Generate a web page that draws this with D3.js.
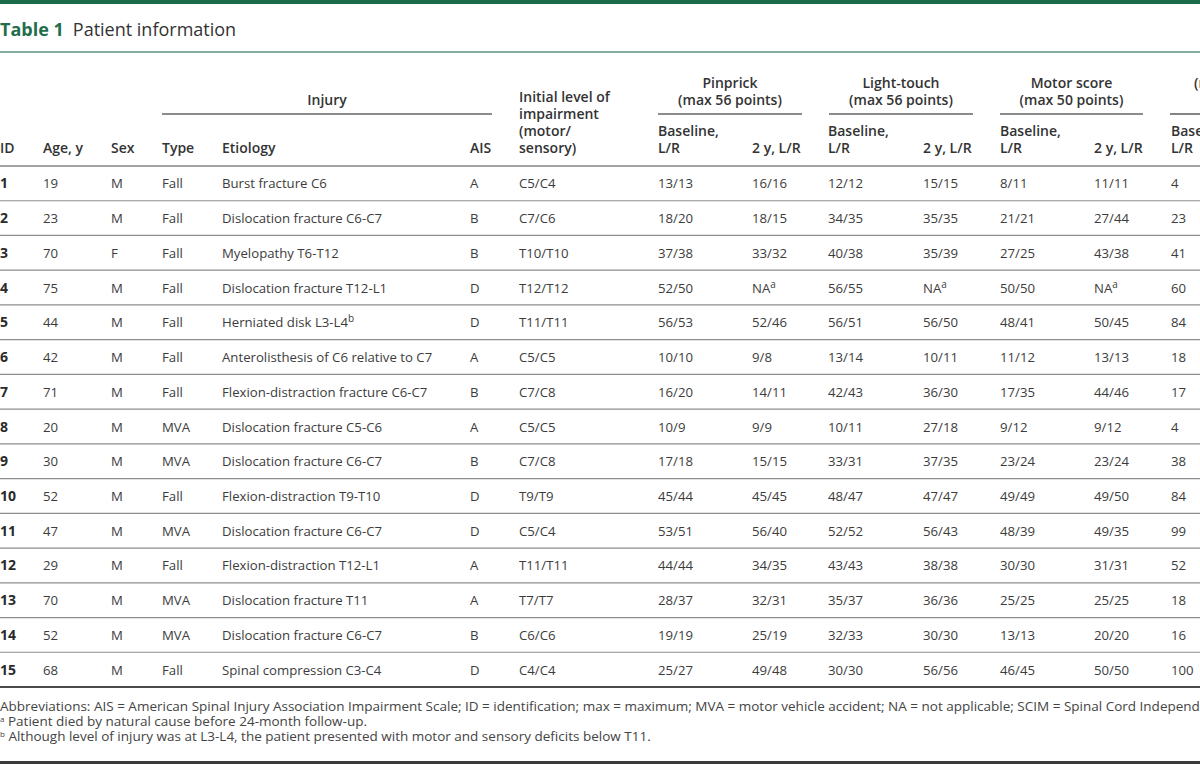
<!DOCTYPE html>
<html><head><meta charset="utf-8">
<script src="https://cdn.jsdelivr.net/npm/d3@7"></script>
<style>
html,body{margin:0;padding:0;background:#fff;overflow:hidden}
svg{display:block;font-family:"Open Sans",sans-serif}
</style></head><body>
<svg id="t" width="1200" height="764"></svg>
<script>
// ---------- data ----------
const ids = [1,2,3,4,5,6,7,8,9,10,11,12,13,14,15];
const ages = [19,23,70,75,44,42,71,20,30,52,47,29,70,52,68];
const sexes = ["M","M","F","M","M","M","M","M","M","M","M","M","M","M","M"];
const injuryTypes = ["Fall","Fall","Fall","Fall","Fall","Fall","Fall","MVA","MVA","Fall","MVA","Fall","MVA","MVA","Fall"];
const etiologies = ["Burst fracture C6","Dislocation fracture C6-C7","Myelopathy T6-T12","Dislocation fracture T12-L1",
  "Herniated disk L3-L4^b","Anterolisthesis of C6 relative to C7","Flexion-distraction fracture C6-C7",
  "Dislocation fracture C5-C6","Dislocation fracture C6-C7","Flexion-distraction T9-T10","Dislocation fracture C6-C7",
  "Flexion-distraction T12-L1","Dislocation fracture T11","Dislocation fracture C6-C7","Spinal compression C3-C4"];
const aisGrades = ["A","B","B","D","D","A","B","A","B","D","D","A","A","B","D"];
const initialLevels = ["C5/C4","C7/C6","T10/T10","T12/T12","T11/T11","C5/C5","C7/C8","C5/C5","C7/C8","T9/T9","C5/C4","T11/T11","T7/T7","C6/C6","C4/C4"];
const pinprickBaseline = ["13/13","18/20","37/38","52/50","56/53","10/10","16/20","10/9","17/18","45/44","53/51","44/44","28/37","19/19","25/27"];
const pinprick2y = ["16/16","18/15","33/32","NA^a","52/46","9/8","14/11","9/9","15/15","45/45","56/40","34/35","32/31","25/19","49/48"];
const lightTouchBaseline = ["12/12","34/35","40/38","56/55","56/51","13/14","42/43","10/11","33/31","48/47","52/52","43/43","35/37","32/33","30/30"];
const lightTouch2y = ["15/15","35/35","35/39","NA^a","56/50","10/11","36/30","27/18","37/35","47/47","56/43","38/38","36/36","30/30","56/56"];
const motorBaseline = ["8/11","21/21","27/25","50/50","48/41","11/12","17/35","9/12","23/24","49/49","48/39","30/30","25/25","13/13","46/45"];
const motor2y = ["11/11","27/44","43/38","NA^a","50/45","13/13","44/46","9/12","23/24","49/50","49/35","31/31","25/25","20/20","50/50"];
const scimBaseline = [4,23,41,60,84,18,17,4,38,84,99,52,18,16,100];

const columnKeys = ["id","age","sex","type","etiology","ais","level","ppB","pp2","ltB","lt2","mB","m2","scB"];
const columnHeads = [["ID"],["Age, y"],["Sex"],["Type"],["Etiology"],["AIS"],
  ["Initial level of","impairment","(motor/","sensory)"],
  ["Baseline,","L/R"],["2 y, L/R"],["Baseline,","L/R"],["2 y, L/R"],["Baseline,","L/R"],["2 y, L/R"],["Baseline,","L/R"]];
const columnValues = [ids,ages,sexes,injuryTypes,etiologies,aisGrades,initialLevels,
  pinprickBaseline,pinprick2y,lightTouchBaseline,lightTouch2y,motorBaseline,motor2y,scimBaseline];

const groupLabels = [["Injury"],["Pinprick","(max 56 points)"],["Light-touch","(max 56 points)"],["Motor score","(max 50 points)"],["(max 100 points)"]];

const titleBold = "Table 1";
const titleText = "Patient information";
const footnotes = [
  "Abbreviations: AIS = American Spinal Injury Association Impairment Scale; ID = identification; max = maximum; MVA = motor vehicle accident; NA = not applicable; SCIM = Spinal Cord Independence Measure.",
  "^a Patient died by natural cause before 24-month follow-up.",
  "^b Although level of injury was at L3-L4, the patient presented with motor and sensory deficits below T11."
];

// ---------- layout ----------
const svg = d3.select("#t");
const W = 1200;
const xCol = d3.scaleOrdinal().domain(columnKeys)
  .range([0,43,111,162,222,470,519,658,752,828,923,1000,1094,1171]);
const groupSpans = [[162,492],[658,802],[829,973],[1000,1143],[1170,1314]];
const yRow = d3.scaleBand().domain(ids).range([166,687]);
const txt = "#3c3c3c";
const FS = 13.2, HFS = 14;

// top bar and title
svg.append("rect").attr("x",0).attr("y",0).attr("width",W).attr("height",4).attr("fill","#1d6a4a");
const title = svg.append("text").attr("x",0).attr("y",36).attr("font-size",18).attr("fill","#333");
title.append("tspan").attr("font-weight",700).attr("fill","#1f6e4c").text(titleBold);
title.append("tspan").attr("dx",9).text(titleText);
svg.append("line").attr("x1",0).attr("x2",W).attr("y1",52).attr("y2",52)
  .attr("stroke","#5d8f7b").attr("stroke-width",1.6);

// helper to write text with ^x superscripts
function richText(sel, s, supSize, rise){
  const parts = String(s).split(/\^(\w)/);
  let pendingDrop = 0;
  parts.forEach((p,i)=>{
    if(p==="") return;
    if(i%2===1){
      sel.append("tspan").attr("font-size",supSize).attr("dy",-rise).text(p);
      pendingDrop = rise;
    } else {
      const ts = sel.append("tspan").text(p);
      if(pendingDrop){ ts.attr("dy",pendingDrop); pendingDrop = 0; }
    }
  });
}

// group headers (bottom-aligned; a group running off the right edge shows only its first line)
const LH = 17;
const groupBottom = 105;
groupLabels.forEach((lines,gi)=>{
  const [a,b] = groupSpans[gi];
  const clipped = b > W;
  lines.forEach((ln,li)=>{
    const y = clipped ? groupBottom - LH + li*LH : groupBottom - (lines.length-1-li)*LH;
    svg.append("text").attr("x",clipped ? a+24 : (a+b)/2).attr("y",y)
      .attr("text-anchor",clipped?"start":"middle").attr("font-size",HFS).attr("font-weight",600).attr("fill","#333").text(ln);
  });
  svg.append("line").attr("x1",a).attr("x2",Math.min(b,W)).attr("y1",114).attr("y2",114)
    .attr("stroke","#666").attr("stroke-width",1.6);
});

// column headers
const headBottom = 153;
columnKeys.forEach((k,ci)=>{
  const lines = columnHeads[ci];
  lines.forEach((ln,li)=>{
    svg.append("text").attr("x",xCol(k)).attr("y",headBottom-(lines.length-1-li)*LH)
      .attr("font-size",HFS).attr("font-weight",600).attr("fill","#333").text(ln);
  });
});
svg.append("line").attr("x1",0).attr("x2",W).attr("y1",166).attr("y2",166)
  .attr("stroke","#a3a3a3").attr("stroke-width",2);

// rows
ids.forEach((id,ri)=>{
  const y0 = yRow(id), bw = yRow.bandwidth();
  if(ri>0){
    svg.append("line").attr("x1",0).attr("x2",W).attr("y1",y0).attr("y2",y0)
      .attr("stroke","#8e8e8e").attr("stroke-width",1.2);
  }
  columnKeys.forEach((k,ci)=>{
    const t = svg.append("text").attr("x",xCol(k)).attr("y",y0+bw/2+5)
      .attr("font-size",k==="id"?14:FS).attr("fill",k==="id"?"#2a2a2a":txt)
      .attr("font-weight",k==="id"?700:400);
    richText(t, columnValues[ci][ri], 10, 5);
  });
});
svg.append("line").attr("x1",0).attr("x2",W).attr("y1",687).attr("y2",687)
  .attr("stroke","#4a4a4a").attr("stroke-width",1.8);

// footnotes
const fnY = [711,726,741];
footnotes.forEach((f,i)=>{
  const t = svg.append("text").attr("x",0).attr("y",fnY[i]).attr("font-size",13.5).attr("fill","#444");
  richText(t, f, 8, 4);
});
svg.append("rect").attr("x",0).attr("y",761).attr("width",W).attr("height",3).attr("fill","#3a3a3a");
</script>
</body></html>
